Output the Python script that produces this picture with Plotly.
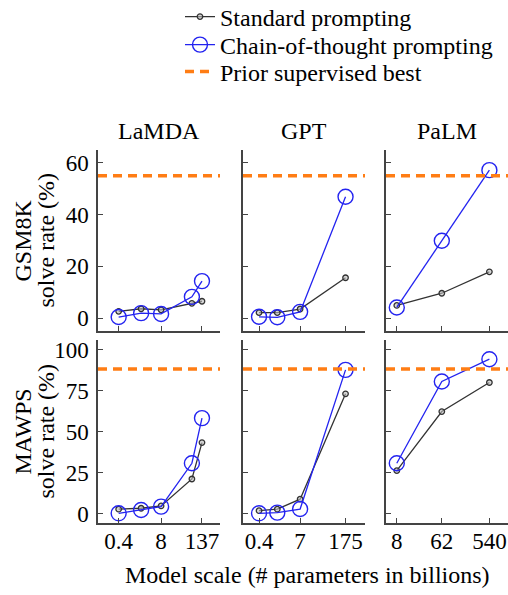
import plotly.graph_objects as go

W, H = 508, 595

models = ["LaMDA", "GPT", "PaLM"]
lamda_x = [0.42, 2, 8, 68, 137]
gpt_x = [0.35, 1.3, 6.7, 175]
palm_x = [8, 62, 540]
xs = [lamda_x, gpt_x, palm_x]

tickvals = [[0.42, 8, 137], [0.35, 6.7, 175], [8, 62, 540]]
ticktext = [["0.4", "8", "137"], ["0.4", "7", "175"], ["8", "62", "540"]]

gsm_std = [[2.6, 3.6, 3.2, 5.7, 6.5], [2.1, 2.1, 3.5, 15.6], [4.9, 9.6, 17.9]]
gsm_cot = [[0.4, 1.9, 1.6, 8.2, 14.3], [0.5, 0.3, 2.4, 46.9], [4.1, 29.9, 57.2]]
mawps_std = [[2.9, 3.5, 4.9, 21.3, 43.5], [2.0, 2.9, 9.0, 73.2], [26.4, 62.4, 80.1]]
mawps_cot = [[0.4, 2.4, 4.5, 30.9, 58.4], [0.4, 0.8, 3.0, 87.8], [30.9, 80.7, 94.3]]
prior_best = [55.0, 88.4]

y_ticks = [[0, 20, 40, 60], [0, 25, 50, 75, 100]]
y_titles = ["GSM8K", "MAWPS"]
x_title = "Model scale (# parameters in billions)"
legend_names = ["Standard prompting", "Chain-of-thought prompting", "Prior supervised best"]

FONT = "'Liberation Serif', 'Times New Roman', serif"
FS = 24
FS_TICK = 23
AX = "#444444"
BLUE = "rgb(35,35,240)"
BLACK = "#333333"
ORANGE = "rgb(255,125,20)"

col_px = [(98, 220), (243, 365), (386, 508)]
row_px = [(150, 331), (340, 523)]
x_ranges = [[-1.0, 2.68], [-0.956, 2.85], [0.69, 3.1]]
y_ranges = [[-5, 65], [-5.5, 106]]
legend_y_px = [17, 45, 72]

fig = go.Figure()
layout = dict(
    width=W, height=H, margin=dict(l=0, r=0, t=0, b=0, autoexpand=False),
    paper_bgcolor="white", plot_bgcolor="white",
    font=dict(family=FONT, size=FS, color="black"),
    showlegend=True,
)
legend_keys = ["legend", "legend2", "legend3"]
for i, k in enumerate(legend_keys):
    layout[k] = dict(x=180 / W, y=1 - legend_y_px[i] / H, xanchor="left", yanchor="middle",
                     bgcolor="rgba(0,0,0,0)", font=dict(size=FS, family=FONT, color="black"),
                     borderwidth=0)
shapes = []
annotations = []

data_rows = [(gsm_std, gsm_cot), (mawps_std, mawps_cot)]
for r in range(2):
    for c in range(3):
        idx = r * 3 + c + 1
        xa = "x" if idx == 1 else f"x{idx}"
        ya = "y" if idx == 1 else f"y{idx}"
        std, cot = data_rows[r]
        first = (idx == 1)
        fig.add_trace(go.Scatter(
            x=xs[c], y=std[c], mode="lines+markers", xaxis=xa, yaxis=ya,
            line=dict(color=BLACK, width=1.3),
            marker=dict(symbol="circle", size=5.5, color="rgba(190,190,190,0.6)",
                        line=dict(color=BLACK, width=1.3)),
            name=legend_names[0], showlegend=first, legendgroup="std", legend="legend"))
        fig.add_trace(go.Scatter(
            x=xs[c], y=cot[c], mode="lines+markers", xaxis=xa, yaxis=ya,
            line=dict(color=BLUE, width=1.3),
            marker=dict(symbol="circle-open", size=15, color=BLUE,
                        line=dict(color=BLUE, width=1.4)),
            name=legend_names[1], showlegend=first, legendgroup="cot", legend="legend2"))
        x0, x1 = col_px[c]
        y0, y1 = row_px[r]
        xk = "xaxis" if idx == 1 else f"xaxis{idx}"
        yk = "yaxis" if idx == 1 else f"yaxis{idx}"
        layout[xk] = dict(
            domain=[x0 / W, x1 / W], anchor=ya, type="log", range=x_ranges[c],
            showline=True, linecolor=AX, linewidth=1.5, mirror=False,
            ticks="inside", ticklen=5, tickwidth=1.2, tickcolor=AX,
            tickvals=tickvals[c], ticktext=ticktext[c], ticklabelstandoff=-3,
            showticklabels=(r == 1), showgrid=False, zeroline=False,
            tickfont=dict(size=FS_TICK, family=FONT, color="black"))
        layout[yk] = dict(
            domain=[1 - y1 / H, 1 - y0 / H], anchor=xa, range=y_ranges[r],
            showline=True, linecolor=AX, linewidth=1.5, mirror=False,
            ticks="inside", ticklen=5, tickwidth=1.2, tickcolor=AX,
            tickvals=y_ticks[r], showticklabels=(c == 0), ticklabelstandoff=3,
            showgrid=False, zeroline=False,
            tickfont=dict(size=FS_TICK, family=FONT, color="black"))
        shapes.append(dict(
            type="line", xref=f"{xa} domain", yref=ya, x0=0, x1=1,
            y0=prior_best[r], y1=prior_best[r],
            line=dict(color=ORANGE, width=3.5, dash="9px,6px"), layer="above"))
        if r == 0:
            annotations.append(dict(
                text=models[c], xref=f"{xa} domain", yref=f"{ya} domain",
                x=0.5, y=1, xanchor="center", yanchor="bottom", yshift=4,
                showarrow=False, font=dict(size=FS, family=FONT, color="black")))
    yc = 1 - (row_px[r][0] + row_px[r][1]) / 2 / H
    annotations.append(dict(
        text=y_titles[r], xref="paper", yref="paper", x=22 / W, y=yc,
        xanchor="center", yanchor="middle", textangle=-90, showarrow=False,
        font=dict(size=FS, family=FONT, color="black")))
    annotations.append(dict(
        text="solve rate (%)", xref="paper", yref="paper", x=45 / W, y=yc,
        xanchor="center", yanchor="middle", textangle=-90, showarrow=False,
        font=dict(size=FS, family=FONT, color="black")))

annotations.append(dict(
    text=x_title, xref="paper", yref="paper", x=307 / W, y=1 - 575 / H,
    xanchor="center", yanchor="middle", showarrow=False,
    font=dict(size=FS, family=FONT, color="black")))

fig.add_trace(go.Scatter(
    x=[None], y=[None], mode="lines", xaxis="x", yaxis="y",
    line=dict(color=ORANGE, width=3.5, dash="9px,6px"),
    name=legend_names[2], showlegend=True, legend="legend3"))

layout["shapes"] = shapes
layout["annotations"] = annotations
fig.update_layout(**layout)
fig.write_html("out.html")
